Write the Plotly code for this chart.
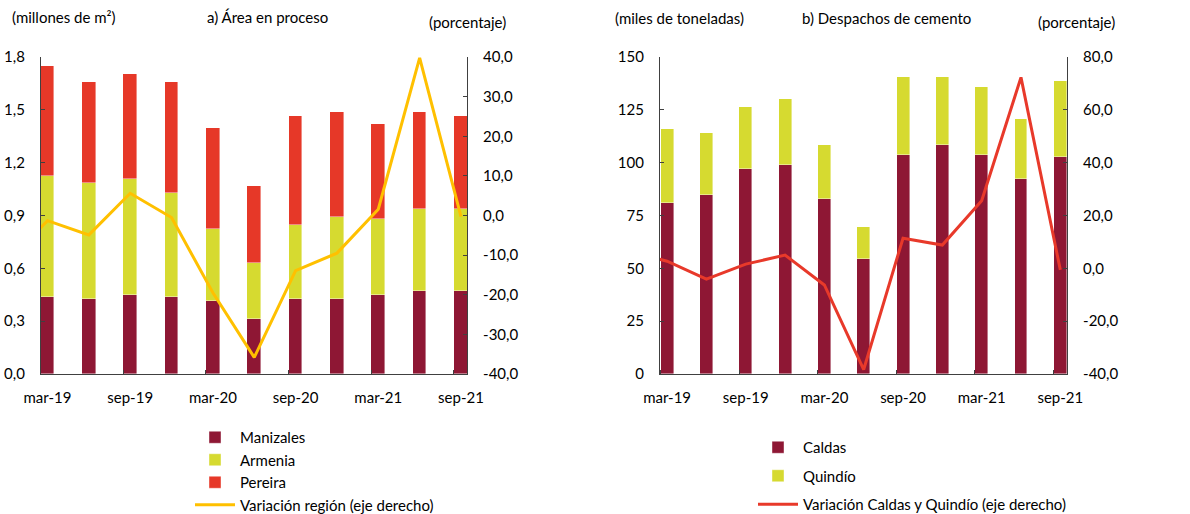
import plotly.graph_objects as go

# ---------------- data ----------------
quarters = ["mar-19", "jun-19", "sep-19", "dic-19", "mar-20", "jun-20",
            "sep-20", "dic-20", "mar-21", "jun-21", "sep-21"]
tick_labels = ["mar-19", "sep-19", "mar-20", "sep-20", "mar-21", "sep-21"]

# a) Área en proceso (millones de m2)
manizales = [0.435, 0.424, 0.447, 0.435, 0.415, 0.310, 0.424, 0.424, 0.447, 0.470, 0.470]
armenia = [0.691, 0.659, 0.659, 0.591, 0.407, 0.319, 0.420, 0.466, 0.431, 0.465, 0.465]
pereira = [0.623, 0.577, 0.598, 0.634, 0.577, 0.440, 0.623, 0.600, 0.543, 0.555, 0.532]
var_region_prev = -12.0  # dic-18 (fuera del rango visible)
var_region = [-1.3, -4.9, 5.6, -0.5, -19.5, -35.8, -13.9, -9.5, 1.6, 39.8, -0.3]

# b) Despachos de cemento (miles de toneladas)
caldas = [81.0, 84.5, 97.0, 99.0, 83.0, 54.5, 103.5, 108.5, 103.5, 92.3, 102.8]
quindio = [35.0, 29.5, 29.3, 31.0, 25.3, 15.0, 36.9, 31.9, 32.1, 28.3, 35.7]
var_cq_prev = 6.5  # dic-18 (fuera del rango visible)
var_cq = [2.7, -4.1, 1.6, 5.0, -6.3, -38.3, 11.4, 8.8, 25.6, 72.3, -0.6]

# right-axis tick values
pct_ticks_a = [-40, -30, -20, -10, 0, 10, 20, 30, 40]
pct_ticks_b = [-40, -20, 0, 20, 40, 60, 80]


def fmt(v):
    return f"{v:.1f}".replace(".", ",")


# ---------------- style ----------------
C_MAN = "#8E1734"
C_ARM = "#D6DA30"
C_PER = "#E63828"
C_YEL = "#FFC000"
C_RED = "#E8392A"
FONT = "Lato"
W, H = 1190, 514

xi = list(range(len(quarters)))
xl = [-1] + xi
bar_w = 0.33
edge = dict(color="rgba(255,255,255,0.7)", width=0.6)

fig = go.Figure()

# left panel
fig.add_trace(go.Bar(x=xi, y=manizales, name="Manizales", marker=dict(color=C_MAN, line=edge),
                     width=bar_w, xaxis="x", yaxis="y", legend="legend"))
fig.add_trace(go.Bar(x=xi, y=armenia, name="Armenia", marker=dict(color=C_ARM, line=edge),
                     width=bar_w, xaxis="x", yaxis="y", legend="legend"))
fig.add_trace(go.Bar(x=xi, y=pereira, name="Pereira", marker=dict(color=C_PER, line=edge),
                     width=bar_w, xaxis="x", yaxis="y", legend="legend"))
fig.add_trace(go.Scatter(x=xl, y=[var_region_prev] + var_region, name="Variación región (eje derecho)",
                         mode="lines", line=dict(color=C_YEL, width=3),
                         xaxis="x", yaxis="y2", legend="legend"))

# right panel
fig.add_trace(go.Bar(x=xi, y=caldas, name="Caldas", marker=dict(color=C_MAN, line=edge),
                     width=bar_w, xaxis="x2", yaxis="y3", legend="legend2", legendgroup="a"))
fig.add_trace(go.Bar(x=xi, y=quindio, name="Quindío", marker=dict(color=C_ARM, line=edge),
                     width=bar_w, xaxis="x2", yaxis="y3", legend="legend2", legendgroup="b"))
fig.add_trace(go.Scatter(x=xl, y=[var_cq_prev] + var_cq, name="Variación Caldas y Quindío (eje derecho)",
                         mode="lines", line=dict(color=C_RED, width=3),
                         xaxis="x2", yaxis="y4", legend="legend2", legendgroup="c"))

x_left = [41 / W, 467 / W]
x_right = [660 / W, 1067 / W]
y_dom = [1 - 374 / H, 1 - 57 / H]

axis_line = dict(showline=True, linecolor="#404040", linewidth=1.2, showgrid=False, zeroline=False,
                 ticks="inside", ticklen=4, tickcolor="#404040", automargin=False,
                 tickfont=dict(family=FONT, size=15, color="#000"))


def xaxis_cfg(domain, anchor, rng):
    return dict(domain=domain, anchor=anchor, range=rng, showline=True, linecolor="#404040",
                linewidth=1.2, showgrid=False, zeroline=False, automargin=False,
                tickmode="array", tickvals=xi[::2], ticktext=tick_labels, ticks="",
                ticklabelstandoff=10,
                tickfont=dict(family=FONT, size=15, color="#000"),
                minor=dict(tickmode="linear", tick0=-0.17, dtick=2, ticks="inside",
                           ticklen=4, tickcolor="#404040", showgrid=False))


fig.update_layout(
    width=W, height=H,
    margin=dict(l=0, r=0, t=0, b=0, autoexpand=False),
    paper_bgcolor="white", plot_bgcolor="white",
    barmode="stack", bargap=0,
    separators=",.",
    font=dict(family=FONT, size=15, color="#000"),
    xaxis=xaxis_cfg(x_left, "y", [-0.157, 10.145]),
    xaxis2=xaxis_cfg(x_right, "y3", [-0.18, 10.17]),
    yaxis=dict(domain=y_dom, anchor="x", range=[0, 1.8], dtick=0.3, tick0=0,
               tickformat=".1f", ticklabelstandoff=12, **axis_line),
    yaxis2=dict(overlaying="y", anchor="x", side="right", range=[-40, 40],
                tickmode="array", tickvals=pct_ticks_a, ticktext=[fmt(v) for v in pct_ticks_a],
                ticklabelstandoff=12, **axis_line),
    yaxis3=dict(domain=y_dom, anchor="x2", range=[0, 150], dtick=25, tick0=0,
                ticklabelstandoff=12, **axis_line),
    yaxis4=dict(overlaying="y3", anchor="x2", side="right", range=[-40, 80],
                tickmode="array", tickvals=pct_ticks_b, ticktext=[fmt(v) for v in pct_ticks_b],
                ticklabelstandoff=12, **axis_line),
    legend=dict(x=190 / W, y=1 - 421 / H, xanchor="left", yanchor="top", orientation="v",
                traceorder="normal", bgcolor="rgba(0,0,0,0)", borderwidth=0,
                font=dict(family=FONT, size=15, color="#000"), itemwidth=40, tracegroupgap=0),
    legend2=dict(x=753 / W, y=1 - 431 / H, xanchor="left", yanchor="top", orientation="v",
                 traceorder="grouped", bgcolor="rgba(0,0,0,0)", borderwidth=0,
                 font=dict(family=FONT, size=15, color="#000"), itemwidth=40, tracegroupgap=6),
    showlegend=True,
)

ann_font = dict(family=FONT, size=15, color="#000")
annots = [
    ("(millones de m²)", 10, 17),
    ("a) Área en proceso", 205, 17),
    ("(porcentaje)", 427, 22),
    ("(miles de toneladas)", 613, 18),
    ("b) Despachos de cemento", 800, 18),
    ("(porcentaje)", 1036, 22),
]
for txt, px, py in annots:
    fig.add_annotation(text=txt, x=px / W, y=1 - py / H, xref="paper", yref="paper",
                       xanchor="left", yanchor="middle", showarrow=False, font=ann_font)

fig.write_html("out.html", config={"displayModeBar": False},
               post_script="document.body.style.margin='0px';")
